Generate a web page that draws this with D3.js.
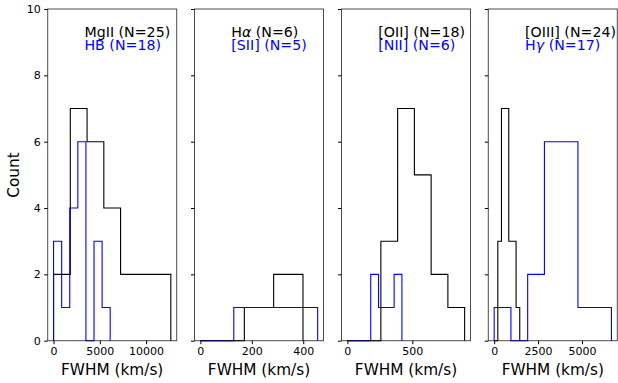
<!DOCTYPE html>
<html><head><meta charset="utf-8">
<script src="https://cdn.jsdelivr.net/npm/d3@7"></script>
<style>body{margin:0;background:#fff}svg{display:block;font-family:"DejaVu Sans",sans-serif}</style>
</head><body><svg id="c" width="618" height="383"></svg>
<script>
// ---- data (bin edges and counts) ----
const panelNames = ["MgII/HB", "Ha/SII", "OII/NII", "OIII/Hg"];
const blackLabels = [["MgII (N=25)"], ["H", "α", " (N=6)"], ["[OII] (N=18)"], ["[OIII] (N=24)"]];
const blueLabels  = [["HB (N=18)"], ["[SII] (N=5)"], ["[NII] (N=6)"], ["H", "γ", " (N=17)"]];
const blackEdges = [
  [0, 1810, 3620, 5430, 7240, 9050, 10860, 12670],
  [0, 57, 114, 171, 228, 285, 342, 399],
  [0, 129, 258, 387, 516, 645, 774, 903],
  [0, 208, 416, 624, 832, 1040, 1249, 1457]
];
const blackCounts = [
  [2, 7, 6, 4, 2, 2, 2],
  [0, 0, 0, 1, 1, 2, 2],
  [0, 0, 3, 7, 5, 2, 1],
  [0, 3, 7, 7, 3, 3, 1]
];
const blueEdges = [
  [0, 874, 1748, 2622, 3496, 4370, 5244, 6117],
  [0, 65, 130, 195, 260, 326, 391, 456],
  [0, 60, 120, 180, 240, 300, 360, 420],
  [0, 954, 1908, 2862, 3816, 4770, 5724, 6678]
];
const blueCounts = [
  [3, 1, 4, 6, 0, 3, 1],
  [0, 0, 1, 1, 1, 1, 1],
  [0, 0, 0, 2, 1, 1, 2],
  [1, 0, 2, 6, 6, 1, 1]
];
const xTicks = [[0, 5000, 10000], [0, 200, 400], [0, 500], [0, 2500, 5000]];
const yTicks = [0, 2, 4, 6, 8, 10];

// ---- layout ----
const svg = d3.select("#c");
const plotTop = 9, plotBottom = 340.7;
const lefts = [47.7, 194.5, 341.5, 488.3];
const pw = 129;
const y = d3.scaleLinear().domain([0, 10]).range([plotBottom, plotTop]);

function stepPath(edges, counts, x) {
  const pts = [[edges[0], 0]];
  counts.forEach((c, i) => { pts.push([edges[i], c]); pts.push([edges[i + 1], c]); });
  pts.push([edges[edges.length - 1], 0]);
  return d3.line().x(d => x(d[0])).y(d => y(d[1]))(pts);
}

function addLabel(g, parts, xx, yy, color) {
  const t = g.append("text").attr("x", xx).attr("y", yy).attr("fill", color)
    .attr("font-size", 14.2);
  parts.forEach(p => {
    const s = t.append("tspan").text(p);
    if (p === "α" || p === "γ") s.attr("font-style", "italic");
  });
}

panelNames.forEach((nm, i) => {
  const L = lefts[i];
  const xmax = Math.max(d3.max(blackEdges[i]), d3.max(blueEdges[i]));
  const xmin = 0;
  const m = (xmax - xmin) * 0.05;
  const x = d3.scaleLinear().domain([xmin - m, xmax + m]).range([L, L + pw]);
  const g = svg.append("g");

  g.append("path").attr("d", stepPath(blackEdges[i], blackCounts[i], x))
    .attr("fill", "none").attr("stroke", "#000").attr("stroke-width", 1.1);
  g.append("path").attr("d", stepPath(blueEdges[i], blueCounts[i], x))
    .attr("fill", "none").attr("stroke", "#0000ff").attr("stroke-width", 1.1);

  // frame
  g.append("rect").attr("x", L).attr("y", plotTop).attr("width", pw).attr("height", plotBottom - plotTop)
    .attr("fill", "none").attr("stroke", "#000").attr("stroke-opacity", 0.7).attr("stroke-width", 1);

  // x axis
  const xa = g.append("g").attr("transform", `translate(0,${plotBottom})`)
    .call(d3.axisBottom(x).tickValues(xTicks[i]).tickSize(3.5).tickPadding(3.5).tickFormat(d3.format("d")));
  xa.select(".domain").remove();
  xa.selectAll("text").attr("font-size", 11).attr("font-family", "DejaVu Sans").attr("fill", "#000");
  xa.selectAll("line").attr("stroke", "#000");

  // y axis
  const ya = g.append("g").attr("transform", `translate(${L},0)`)
    .call(d3.axisLeft(y).tickValues(yTicks).tickSize(3.5).tickPadding(3.5).tickFormat(i === 0 ? d3.format("d") : ""));
  ya.select(".domain").remove();
  ya.selectAll("text").attr("font-size", 11).attr("font-family", "DejaVu Sans").attr("fill", "#000");
  ya.selectAll("line").attr("stroke", "#000");

  // x label
  g.append("text").attr("x", L + pw / 2).attr("y", 375).attr("text-anchor", "middle")
    .attr("font-size", 15.3).text("FWHM (km/s)");

  addLabel(g, blackLabels[i], L + 0.285 * pw, 37, "#000");
  addLabel(g, blueLabels[i], L + 0.285 * pw, 50, "#0000ff");
});

svg.append("text").attr("transform", "translate(19,175) rotate(-90)").attr("text-anchor", "middle")
  .attr("font-size", 15.3).text("Count");
</script></body></html>
